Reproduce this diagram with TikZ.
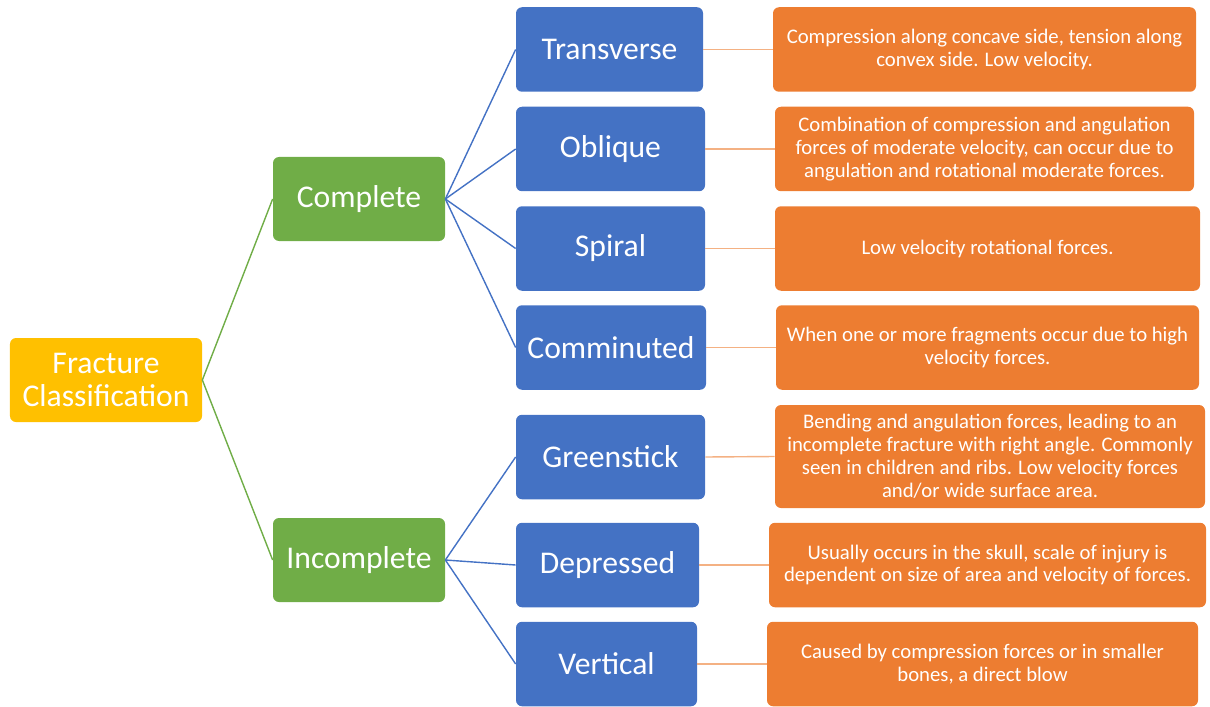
\documentclass[tikz,border=0pt]{standalone}
\usepackage{fontspec}
\setmainfont{Carlito}
\definecolor{rootgold}{HTML}{FFC000}
\definecolor{kindgreen}{HTML}{70AD47}
\definecolor{typeblue}{HTML}{4472C4}
\definecolor{descorange}{HTML}{ED7D31}
\definecolor{linkorange}{HTML}{F4B183}
\begin{document}
\begin{tikzpicture}[
  box/.style={rounded corners=0.12cm, text=white, align=center, inner sep=2pt},
  root/.style={box, fill=rootgold, font=\fontsize{18}{19}\selectfont},
  kind/.style={box, fill=kindgreen, font=\fontsize{18}{19}\selectfont, minimum width=3.44cm, minimum height=1.68cm},
  type/.style={box, fill=typeblue, font=\fontsize{18}{19}\selectfont, minimum height=1.69cm},
  desc/.style={box, fill=descorange, font=\fontsize{11.8}{13}\selectfont, minimum height=1.69cm},
  greenlink/.style={kindgreen, line width=0.8pt},
  bluelink/.style={typeblue, line width=0.8pt},
  orangelink/.style={linkorange, line width=0.8pt}]
\useasboundingbox (0,0) rectangle (24.2,-14.12);

\node[root, minimum width=3.84cm, minimum height=1.68cm] (frac) at (2.12,-7.60) {Fracture\\Classification};
\node[kind] (comp) at (7.18,-3.98) {Complete};
\node[kind] (incomp) at (7.18,-11.20) {Incomplete};

\node[type, minimum width=3.74cm] (trans) at (12.19,-0.99) {Transverse};
\node[type, minimum width=3.78cm] (obl) at (12.21,-2.98) {Oblique};
\node[type, minimum width=3.78cm] (spir) at (12.21,-4.97) {Spiral};
\node[type, minimum width=3.80cm] (comm) at (12.22,-6.95) {Comminuted};
\node[type, minimum width=3.78cm] (green) at (12.21,-9.14) {Greenstick};
\node[type, minimum width=3.66cm] (depr) at (12.15,-11.30) {Depressed};
\node[type, minimum width=3.62cm] (vert) at (12.13,-13.28) {Vertical};

\node[desc, minimum width=8.46cm] (dtrans) at (19.69,-0.99) {Compression along concave side, tension along\\convex side. Low velocity.};
\node[desc, minimum width=8.38cm] (dobl) at (19.69,-2.98) {Combination of compression and angulation\\forces of moderate velocity, can occur due to\\angulation and rotational moderate forces.};
\node[desc, minimum width=8.50cm] (dspir) at (19.75,-4.97) {Low velocity rotational forces.};
\node[desc, minimum width=8.46cm] (dcomm) at (19.75,-6.95) {When one or more fragments occur due to high\\velocity forces.};
\node[desc, minimum width=8.60cm, minimum height=2.06cm] (dgreen) at (19.80,-9.13) {Bending and angulation forces, leading to an\\incomplete fracture with right angle. Commonly\\seen in children and ribs. Low velocity forces\\and/or wide surface area.};
\node[desc, minimum width=8.74cm] (ddepr) at (19.75,-11.30) {Usually occurs in the skull, scale of injury is\\dependent on size of area and velocity of forces.};
\node[desc, minimum width=8.62cm] (dvert) at (19.65,-13.28) {Caused by compression forces or in smaller\\bones, a direct blow};

\draw[greenlink] (frac.east) to (comp.west);
\draw[greenlink] (frac.east) to (incomp.west);

\draw[bluelink] (comp.east) to (trans.west);
\draw[bluelink] (comp.east) to (obl.west);
\draw[bluelink] (comp.east) to (spir.west);
\draw[bluelink] (comp.east) to (comm.west);
\draw[bluelink] (incomp.east) to (green.west);
\draw[bluelink] (incomp.east) to (depr.west);
\draw[bluelink] (incomp.east) to (vert.west);

\draw[orangelink] (trans.east) to (dtrans.west);
\draw[orangelink] (obl.east) to (dobl.west);
\draw[orangelink] (spir.east) to (dspir.west);
\draw[orangelink] (comm.east) to (dcomm.west);
\draw[orangelink] (green.east) to (dgreen.west);
\draw[orangelink] (depr.east) to (ddepr.west);
\draw[orangelink] (vert.east) to (dvert.west);
\end{tikzpicture}
\end{document}
